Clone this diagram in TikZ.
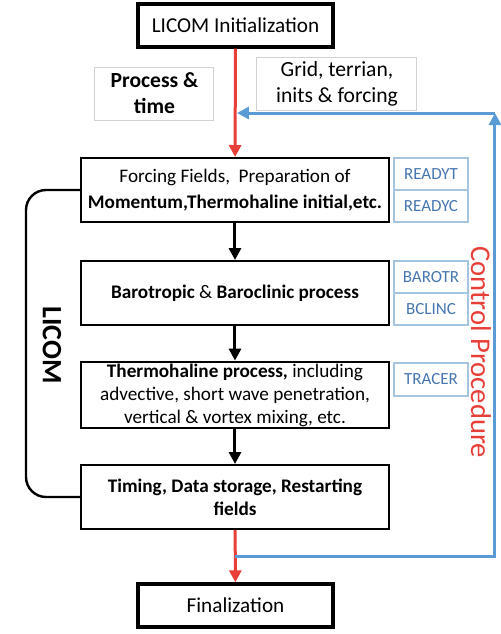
\documentclass[tikz,border=0pt]{standalone}
\usepackage{fontspec}
\setmainfont{Carlito}
\usetikzlibrary{calc,arrows.meta}
\definecolor{flowred}{RGB}{232,62,56}
\definecolor{ctrlblue}{RGB}{91,155,213}
\definecolor{subline}{RGB}{165,196,224}
\definecolor{subtext}{RGB}{70,118,178}

\begin{document}
\begin{tikzpicture}[x=0.5pt,y=-0.5pt,
  stage/.style={draw,line width=1pt,minimum width=154pt,minimum height=32pt,inner sep=1pt,align=center,font=\fontsize{9.6}{12.5}\selectfont},
  endbox/.style={draw,line width=1.7pt,minimum width=97.5pt,minimum height=21.5pt,font=\fontsize{10.6}{12}\selectfont},
  note/.style={draw=gray!35,line width=0.5pt,align=center,inner sep=1pt,font=\fontsize{10.8}{13}\selectfont},
  sub/.style={draw=subline,line width=0.6pt,text=subtext,minimum width=37pt,minimum height=16pt,inner sep=0pt,font=\fontsize{8.5}{9}\selectfont},
  blk/.style={-{Triangle[length=6pt,width=6pt]},line width=1.5pt},
  redflow/.style={-{Triangle[length=6pt,width=6pt]},line width=1.5pt,flowred},
  blueflow/.style={-{Triangle[length=6pt,width=6pt]},line width=1.5pt,ctrlblue}]
\useasboundingbox (0,0) rectangle (500,634);

%% start and end
\node[endbox] (init) at (235.5,25.5) {LICOM Initialization};
\node[endbox] (fin) at (235.5,605.5) {Finalization};

%% notes
\node[note,minimum width=59.5pt,minimum height=26.5pt,font=\fontsize{10.8}{13}\selectfont\bfseries] (ptime) at (154.5,93.5) {Process \&\\time};
\node[note,minimum width=80pt,minimum height=26.5pt] (grid) at (337,83.5) {Grid, terrian,\\inits \& forcing};

%% main stages
\node[stage,font=\fontsize{9.6}{13}\selectfont] (s1) at (235,190) {Forcing Fields,\ \ Preparation of\\\textbf{Momentum,Thermohaline initial,etc.}};
\node[stage] (s2) at (235,293) {\textbf{Barotropic} \& \textbf{Baroclinic process}};
\node[stage,font=\fontsize{9.6}{11.5}\selectfont] (s3) at (235,395) {\textbf{Thermohaline process,} including\\advective, short wave penetration,\\vertical \& vortex mixing, etc.};
\node[stage,font=\fontsize{9.6}{11.5}\selectfont\bfseries] (s4) at (235,497) {Timing, Data storage, Restarting\\fields};

%% routines
\node[sub] (readyt) at (431,174) {READYT};
\node[sub] (readyc) at (431,206) {READYC};
\node[sub] (barotr) at (431,277) {BAROTR};
\node[sub] (bclinc) at (431,309) {BCLINC};
\node[sub,minimum height=16.5pt] (tracer) at (431,379.5) {TRACER};

%% flow
\draw[redflow] (init) -- (s1);
\draw[blk] (s1) -- (s2);
\draw[blk] (s2) -- (s3);
\draw[blk] (s3) -- (s4);
\draw[redflow] (s4) -- (fin);

%% control loop
\coordinate (back) at (235,556);
\coordinate (corner) at (495,113);
\coordinate (join) at (237,113);
\draw[blueflow] (back) -- (back -| corner) -- (corner);
\draw[blueflow] (corner) -- (join);
\node[rotate=-90,text=flowred,font=\fontsize{14.3}{16}\selectfont] (ctrl) at (481,352) {Control Procedure};

%% LICOM bracket
\draw[line width=1.2pt,rounded corners=10pt] (s1.west) -- (26,190) -- (26,497) -- (s4.west);
\node[rotate=-90,font=\fontsize{14}{16}\selectfont\bfseries] (licom) at (52,345) {LICOM};
\end{tikzpicture}
\end{document}
